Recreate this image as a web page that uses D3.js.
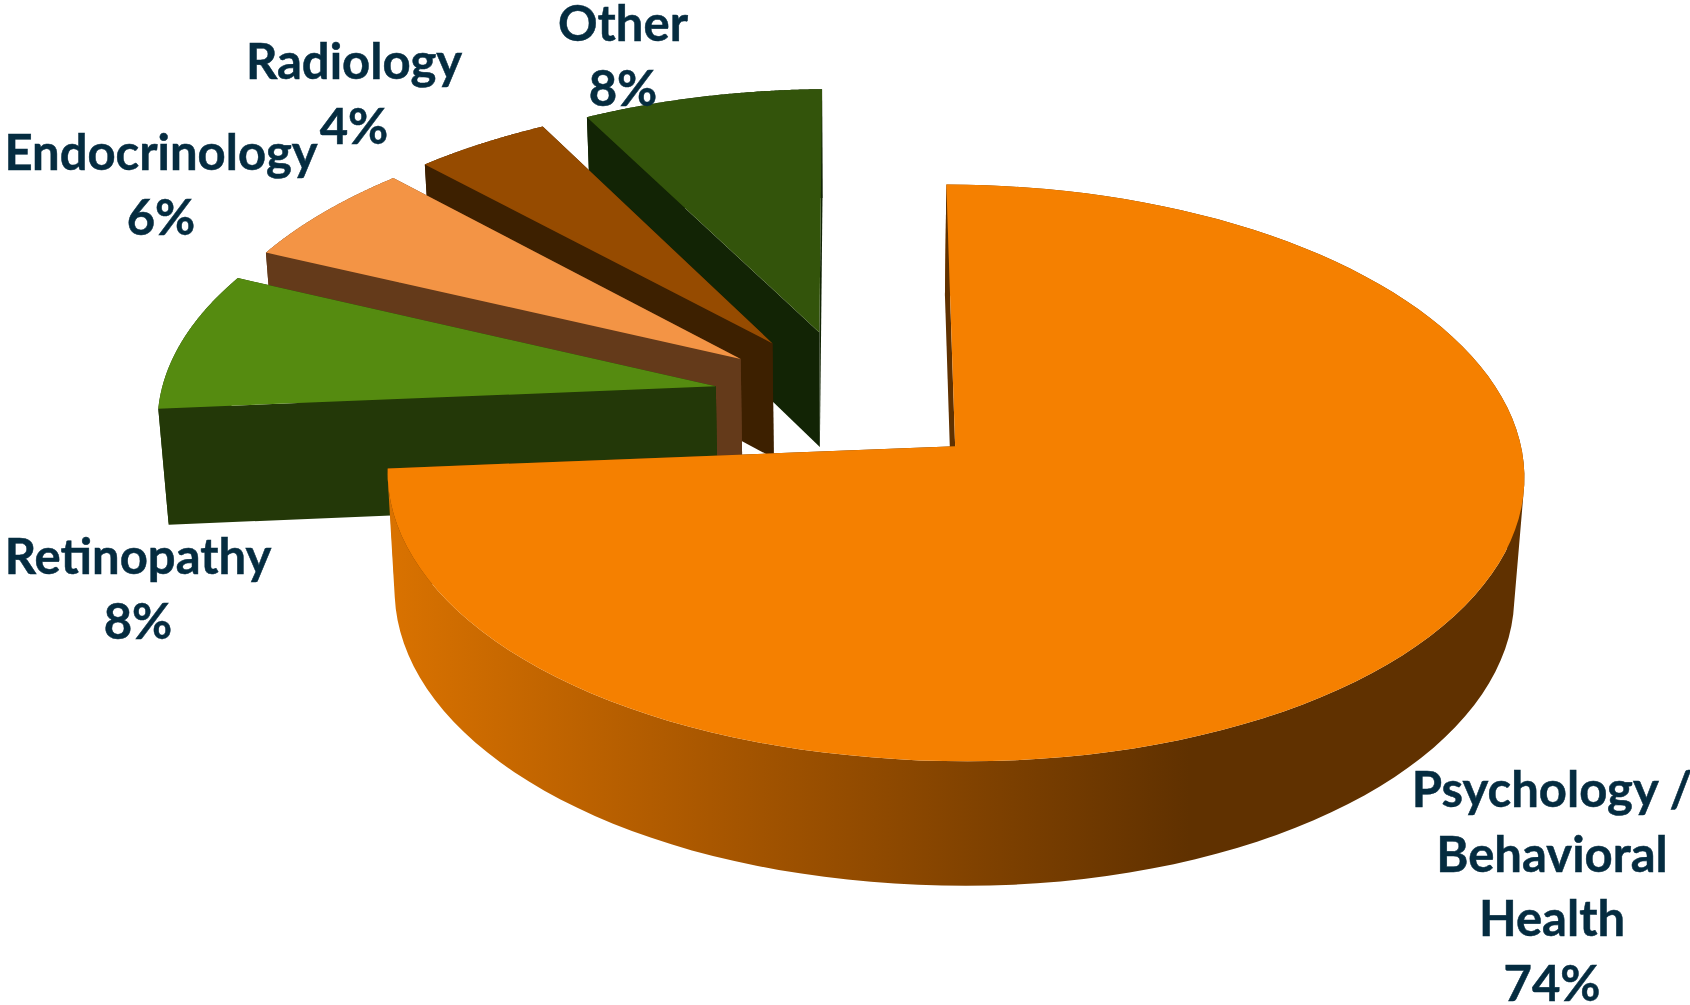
<!DOCTYPE html>
<html>
<head>
<meta charset="utf-8">
<script src="https://cdn.jsdelivr.net/npm/d3@7/dist/d3.min.js"></script>
<style>
  html, body { margin: 0; padding: 0; background: #fff; overflow: hidden; }
  text { font-family: Lato, "Open Sans", sans-serif; font-weight: 700; fill: #052c40; stroke: #052c40; stroke-width: 0.5px; }
</style>
</head>
<body>
<div id="chart"></div>
<script>
// chart values, clockwise from 12 o'clock
var categories = ['Psychology / Behavioral Health', 'Retinopathy', 'Endocrinology', 'Radiology', 'Other'];
// slice sizes, the printed labels are rounded
var shares = [74, 8, 5.95, 4.35, 7.7];
var percentLabels = ['74%', '8%', '6%', '4%', '8%'];
var labelLines = [['Psychology /', 'Behavioral', 'Health'], ['Retinopathy'], ['Endocrinology'], ['Radiology'], ['Other']];

var topColors = ['#f58000', '#558b10', '#f39445', '#964b00', '#33540b'];
var sideColors = ['#603100', '#233808', '#643a1a', '#3d2000', '#122405'];

// label anchor: centre x and first baseline y
var labelX = [1552, 138, 161, 354, 623];
var labelY = [807, 574, 170, 79, 41];

var width = 1690, height = 1005;

// 3d look: flat disc seen from above, far side gets smaller
var cx = 852, cy = 398, radiusX = 557, radiusY = 277;
var perspective = 0.0915, explode = 0.25, thickness = 116, bottomShrink = 0.985, leftDrop = 5;

function project(X, Y, bottom) {
  var w = 1 - perspective * Y;
  // the left side of the reference sits a little lower than the right
  var px = radiusX * X / w, py = (radiusY * Y - leftDrop * Math.min(X, 0)) / w;
  if (!bottom) return [cx + px, cy + py];
  return [cx + px * bottomShrink, cy + py * bottomShrink + thickness / w];
}

var svg = d3.select('#chart').append('svg')
  .attr('width', width)
  .attr('height', height)
  .style('display', 'block');

// wall of the big slice fades from orange into brown
var grad = svg.append('defs').append('linearGradient')
  .attr('id', 'mainWall')
  .attr('gradientUnits', 'userSpaceOnUse')
  .attr('x1', 390).attr('x2', 1190).attr('y1', 0).attr('y2', 0);
grad.append('stop').attr('offset', 0).attr('stop-color', '#d97200');
grad.append('stop').attr('offset', 0.4).attr('stop-color', '#a95700');
grad.append('stop').attr('offset', 1).attr('stop-color', '#603100');

var pie = d3.pie().sort(null)(shares);
var line = d3.line();

pie.forEach(function(d) {
  var mid = (d.startAngle + d.endAngle) / 2;
  d.ox = explode * Math.sin(mid);
  d.oy = -explode * Math.cos(mid);
  d.steps = d3.range(0, 121).map(function(i) {
    return d.startAngle + (d.endAngle - d.startAngle) * i / 120;
  });
});

function apex(d, bottom) { return project(d.ox, d.oy, bottom); }
function rim(d, a, bottom) { return project(d.ox + Math.sin(a), d.oy - Math.cos(a), bottom); }

// far slices first, the big one goes on top of everything
var drawOrder = [4, 3, 2, 1, 0];

var slices = svg.selectAll('g.slice').data(drawOrder.map(function(i) { return pie[i]; }))
  .enter().append('g').classed('slice', true);

function radialFace(d, a) {
  return line([apex(d), rim(d, a), rim(d, a, true), apex(d, true)]) + 'Z';
}

// outer wall swept quad by quad in one path. All quads get the same winding,
// otherwise they cancel out where the band folds over at the silhouette.
function wallPath(d) {
  return d.steps.slice(1).map(function(a, i) {
    var b = d.steps[i];
    var quad = [rim(d, b), rim(d, a), rim(d, a, true), rim(d, b, true)];
    if (d3.polygonArea(quad) < 0) quad.reverse();
    return line(quad) + 'Z';
  }).join('');
}

slices.append('path')
  .attr('d', function(d) { return radialFace(d, d.endAngle); })
  .attr('fill', function(d) { return sideColors[d.index]; });

slices.append('path')
  .attr('d', wallPath)
  .attr('fill', function(d) { return d.index === 0 ? 'url(#mainWall)' : sideColors[d.index]; });

slices.append('path')
  .attr('d', function(d) { return radialFace(d, d.startAngle); })
  .attr('fill', function(d) { return sideColors[d.index]; });

slices.append('path')
  .attr('d', function(d) {
    return line([apex(d)].concat(d.steps.map(function(a) { return rim(d, a); }))) + 'Z';
  })
  .attr('fill', function(d) { return topColors[d.index]; });

// labels: name lines, then the share
var lineHeight = 64.5;
var labels = svg.selectAll('text.label').data(categories)
  .enter().append('text')
  .classed('label', true)
  .attr('text-anchor', 'middle')
  .attr('font-size', 49);

labels.selectAll('tspan')
  .data(function(d, i) {
    return labelLines[i].concat(percentLabels[i]).map(function(t) { return { t: t, i: i }; });
  })
  .enter().append('tspan')
  .attr('x', function(d) { return labelX[d.i]; })
  .attr('y', function(d, j) { return labelY[d.i] + j * lineHeight; })
  .text(function(d) { return d.t; });
</script>
</body>
</html>
